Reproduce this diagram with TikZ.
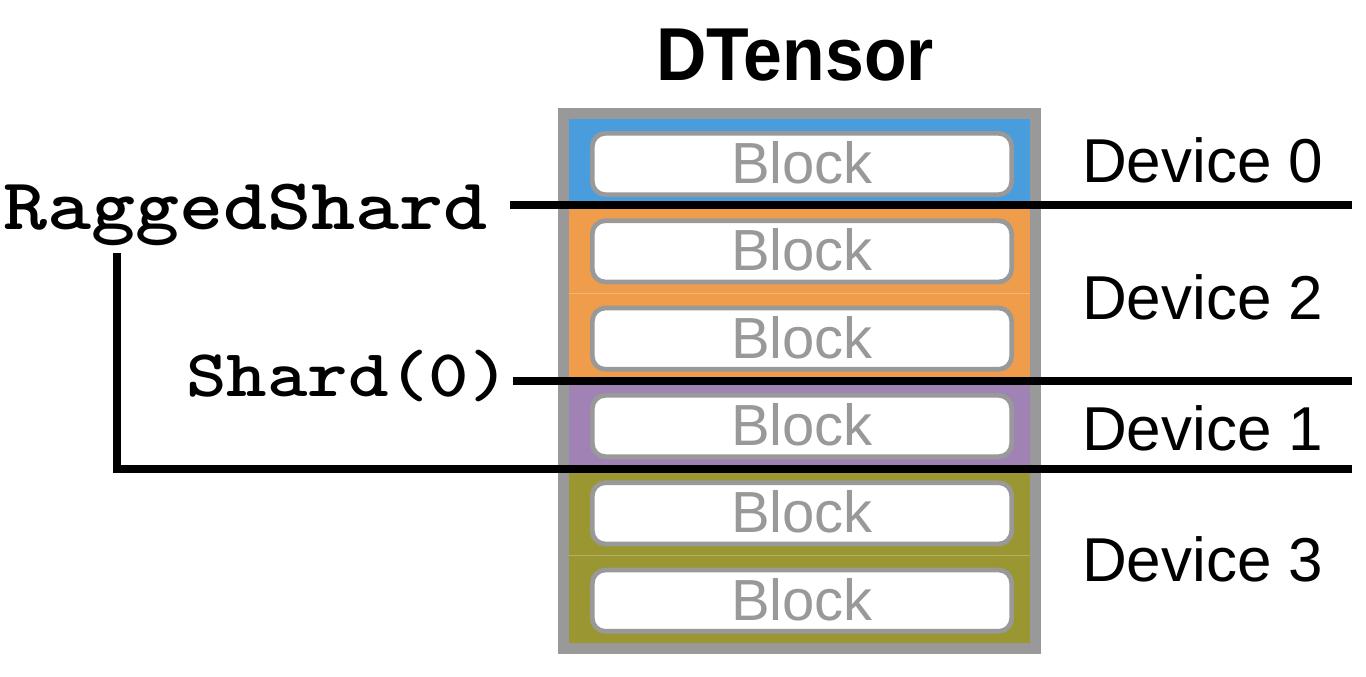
\documentclass[tikz,border=0pt]{standalone}
\usepackage{fontspec}
\usepackage{graphicx}
\setmainfont{Liberation Sans}
\newfontfamily\titlefont[FakeStretch=0.93]{Liberation Sans}
\definecolor{cblue}{RGB}{74,157,220}
\definecolor{corange}{RGB}{239,157,74}
\definecolor{cpurple}{RGB}{160,131,180}
\definecolor{colive}{RGB}{154,150,50}
\definecolor{cgray}{RGB}{153,153,153}
\newcommand{\codetext}[2]{\scalebox{1.15}[1]{\ttfamily\bfseries\fontsize{#1}{#1}\selectfont #2}}
\tikzset{
  cellbox/.style={inner sep=0pt, minimum width=461, minimum height=87.333, draw=none},
  blockbox/.style={draw=cgray, line width=4.7, fill=white, rounded corners=13,
    minimum width=419.3, minimum height=61.3, inner sep=0pt, text=cgray,
    font=\fontsize{58}{58}\selectfont},
  devlabel/.style={anchor=base west, inner sep=0pt, font=\fontsize{62}{62}\selectfont},
  codelabel/.style={anchor=base west, inner sep=0pt},
  rule/.style={line width=8, black},
}
\begin{document}
\begin{tikzpicture}[x=1pt,y=-1pt]
\useasboundingbox (0,0) rectangle (1366,677);
\fill[white] (0,0) rectangle (1366,677);

% title
\node[anchor=base, inner sep=0pt, font=\titlefont\bfseries\fontsize{75}{75}\selectfont] (title) at (795,81) {DTensor};

% cells
\foreach \i/\c in {0/cblue,1/corange,2/corange,3/cpurple,4/colive,5/colive}{
  \node[cellbox, fill=\c] (cell\i) at (799.5,{119+87.333*\i+43.667}) {};
}
\draw[corange!75!white, line width=1] (cell1.south west) -- (cell1.south east);
\draw[colive!75!white, line width=1] (cell4.south west) -- (cell4.south east);
\draw[cblue!70!white, line width=1.2] (cell0.north west) -- (cell0.north east);

% blocks
\foreach \i in {0,...,5}{
  \node[blockbox] (blk\i) at (802,{119+87.333*\i+45}) {\raisebox{3pt}{Block}};
}

% outer border
\node[draw=cgray, line width=11, minimum width=472, minimum height=535, inner sep=0pt] (tensor) at (799.5,381) {};

% device labels
\node[devlabel] (dev0) at (1082,182) {Device 0};
\node[devlabel] (dev2) at (1082,319) {Device 2};
\node[devlabel] (dev1) at (1082,450.7) {Device 1};
\node[devlabel] (dev3) at (1082,581.7) {Device 3};

% placement labels
\node[codelabel] (ragged) at (3,229) {\codetext{73}{RaggedShard}};
\node[codelabel] (shard) at (186,396) {\codetext{67}{Shard(0)}};

% rules
\coordinate (rA) at (510,205);
\coordinate (rB) at (1352,205);
\coordinate (sA) at (513,381);
\coordinate (sB) at (1352,381);
\coordinate (bA) at (117,253);
\coordinate (bB) at (1352,469);
\draw[rule] (rA) -- (rB);
\draw[rule] (sA) -- (sB);
\draw[rule, line join=miter] (bA) |- (bB);
\end{tikzpicture}
\end{document}
